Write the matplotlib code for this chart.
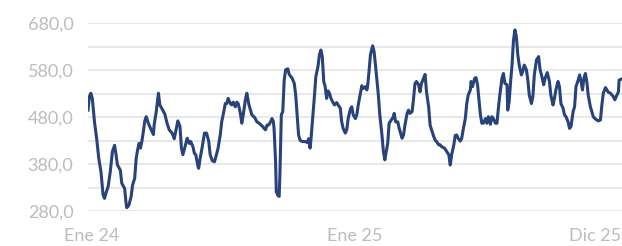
import numpy as np
import pandas as pd
import matplotlib
matplotlib.use('Agg')
import matplotlib.pyplot as plt
from matplotlib.ticker import FixedLocator, FuncFormatter

# days since 2024-01-01 and values
days = [-5, -3, -1, 1, 4, 7, 10, 13, 16, 18, 20, 23, 26, 29, 32, 34, 36, 40, 42, 46,
        48, 49, 52, 55, 57, 60, 62, 64, 66, 68, 70, 72, 74, 76, 79, 82, 86, 87, 90, 93,
        95, 99, 102, 105, 108, 112, 115, 120, 123, 125, 127, 130, 133, 136, 138, 141, 143, 145,
        148, 149, 151, 154, 157, 160, 163, 165, 168, 171, 173, 176, 179, 181, 184, 186, 188, 190,
        193, 195, 197, 200, 202, 204, 207, 209, 211, 214, 216, 219, 223, 227, 230, 233, 236, 238,
        240, 242, 244, 246, 248, 251, 253, 254, 256, 257, 259, 261, 262, 264, 266, 268, 270, 273,
        275, 279, 282, 284, 286, 288, 290, 293, 297, 300, 302, 304, 305, 308, 310, 312, 315, 317,
        319, 321, 323, 325, 327, 329, 331, 333, 336, 338, 341, 343, 346, 348, 350, 353, 355, 357,
        360, 362, 364, 367, 369, 371, 374, 376, 378, 381, 383, 384, 386, 388, 391, 393, 395, 397,
        399, 401, 404, 406, 408, 410, 412, 414, 417, 420, 421, 423, 426, 428, 432, 434, 436, 439,
        441, 443, 446, 448, 450, 452, 455, 457, 459, 462, 464, 466, 469, 471, 473, 476, 478, 480,
        483, 485, 487, 490, 492, 494, 497, 499, 501, 504, 506, 508, 510, 513, 515, 517, 520, 522,
        524, 527, 528, 530, 533, 535, 537, 539, 541, 543, 545, 548, 550, 552, 555, 557, 559, 562,
        564, 566, 568, 571, 573, 575, 578, 579, 581, 583, 585, 587, 589, 591, 593, 595, 598, 600,
        602, 605, 607, 609, 612, 614, 616, 619, 622, 624, 626, 629, 631, 634, 637, 639, 642, 644,
        646, 649, 651, 653, 656, 658, 660, 663, 665, 667, 670, 672, 674, 677, 679, 681, 683, 685,
        687, 689, 691, 694, 696, 698, 701, 703, 705, 708, 710, 712, 715, 717, 719, 722, 724, 726,
        728, 731, 733, 734, 737]
values = [495, 524, 531, 520, 470, 435, 392, 364, 314, 307, 318, 332, 364, 407, 420, 400, 378, 367, 339, 328,
          296, 287, 293, 311, 335, 350, 392, 410, 424, 414, 429, 449, 472, 481, 467, 456, 443, 463, 492, 531,
          506, 495, 486, 467, 453, 446, 434, 472, 460, 414, 400, 417, 435, 424, 428, 417, 403, 400,
          375, 371, 392, 417, 446, 446, 428, 400, 387, 385, 396, 414, 442, 470, 492, 509, 509, 520,
          509, 506, 512, 502, 512, 509, 488, 467, 485, 517, 531, 506, 485, 479, 470, 467, 463, 460,
          456, 453, 463, 463, 467, 477, 470, 453, 385, 321, 314, 311, 357, 485, 492, 559, 581, 583,
          571, 563, 552, 527, 485, 442, 431, 428, 428, 426, 434, 414, 428, 485, 524, 566, 588, 613,
          623, 609, 556, 545, 520, 536, 531, 520, 511, 506, 511, 506, 499, 470, 456, 446, 453, 477,
          497, 502, 485, 477, 485, 506, 531, 547, 541, 545, 538, 545, 577, 613, 632, 620, 591, 559,
          527, 485, 442, 407, 389, 407, 424, 467, 474, 481, 488, 470, 470, 456, 435, 442, 463, 488,
          495, 488, 492, 520, 552, 556, 549, 534, 552, 563, 571, 534, 502, 463, 453, 439, 431, 428,
          421, 421, 417, 415, 412, 407, 400, 378, 400, 421, 441, 442, 435, 429, 435, 453, 477, 509,
          527, 538, 556, 545, 563, 564, 549, 516, 485, 467, 467, 477, 467, 481, 465, 481, 477, 467,
          467, 499, 527, 563, 573, 552, 549, 495, 513, 556, 591, 644, 666, 652, 613, 591, 570, 578,
          591, 581, 559, 527, 509, 524, 570, 602, 609, 581, 570, 549, 563, 575, 556, 527, 506, 520,
          538, 556, 545, 509, 499, 485, 481, 470, 456, 460, 492, 502, 545, 559, 570, 556, 538, 563,
          573, 556, 527, 502, 492, 481, 476, 474, 472, 474, 506, 531, 543, 538, 533, 531, 527, 524,
          517, 527, 534, 559, 561]

start = pd.Timestamp('2024-01-01')
tick_dates = ['2024-01-01', '2025-01-01', '2025-12-01']
tick_labels = ['Ene 24', 'Ene 25', 'Dic 25']
y_ticks = [280, 380, 480, 580, 680]
y_grid_minor = [330, 430, 530, 630]

dates = start + pd.to_timedelta(days, unit='D')

plt.rcParams['font.family'] = ['Lato', 'DejaVu Sans']

fig = plt.figure(figsize=(6.22, 2.46), dpi=100)
ax = fig.add_axes([88 / 622, 35 / 246, 534 / 622, 187.7 / 246])

ax.plot(dates, values, color='#28427a', lw=2.2, solid_joinstyle='round', zorder=3)

ax.set_ylim(280, 680)
ax.set_xlim(start - pd.Timedelta(days=5), start + pd.Timedelta(days=738))
ax.yaxis.set_major_locator(FixedLocator(y_ticks))
ax.yaxis.set_minor_locator(FixedLocator(y_grid_minor))
ax.yaxis.set_major_formatter(FuncFormatter(lambda v, p: f'{v:.1f}'.replace('.', ',')))
ax.grid(True, axis='y', which='both', color='#e2e2e2', lw=1.1)
ax.set_axisbelow(True)

ax.set_xticks(pd.to_datetime(tick_dates))
ax.set_xticklabels(tick_labels)

for s in ax.spines.values():
    s.set_visible(False)
ax.tick_params(axis='y', which='both', length=0, pad=10.5, labelsize=13, labelcolor='#bcbcbc')
ax.tick_params(axis='x', length=0, pad=12.5, labelsize=13, labelcolor='#bcbcbc')

fig.savefig('out.png', dpi=100)
